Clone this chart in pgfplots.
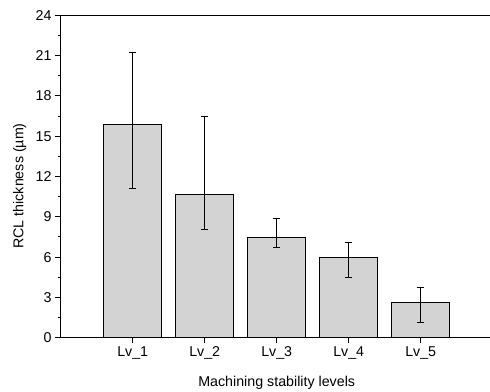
\documentclass[border=0pt]{standalone}
\usepackage{fontspec}
\setmainfont{Liberation Sans}
\usepackage{pgfplots}
\pgfplotsset{compat=1.18}
\definecolor{barfill}{RGB}{211,211,211}
\newcommand{\lab}{\fontsize{14.3}{17}\selectfont}
\begin{document}
\begin{tikzpicture}
% fixed page frame around the axis box
\path[use as bounding box] (-60.7bp,-54.3bp) rectangle (429.3bp,337.7bp);
\begin{axis}[
  at={(0,0)}, anchor=south west,
  scale only axis,
  width=429.3bp, height=322.4bp,
  xmin=0, xmax=5.9625,
  ymin=0, ymax=24,
  axis x line*=box,
  axis y line*=left,
  axis line style={line width=1bp, -},
  every axis plot/.append style={line width=1bp},
  tick align=outside,
  major tick length=5.7bp,
  minor tick length=3bp,
  tick style={line width=1bp, black},
  xtick={1,2,3,4,5},
  xticklabels={Lv\_1,Lv\_2,Lv\_3,Lv\_4,Lv\_5},
  xtick pos=bottom,
  ytick={0,3,...,24},
  minor y tick num=1,
  ytick pos=left,
  /pgf/number format/assume math mode=true,
  tick label style={font=\lab},
  xlabel={Machining stability levels},
  ylabel={RCL thickness (µm)},
  every axis x label/.style={at={(axis cs:3,0)}, anchor=base, yshift=-49bp, font=\lab},
  every axis y label/.style={at={(axis description cs:0,0)}, xshift=-37.4bp, yshift=151.7bp, rotate=90, anchor=base, font=\lab},
  ybar, bar width=0.8, bar shift=0pt,
]
\addplot[
  fill=barfill, draw=black, line width=1bp,
  error bars/.cd,
    y dir=both, y explicit,
    error bar style={line width=1bp, black},
    error mark options={rotate=90, mark size=3.3bp, line width=1bp, black},
] coordinates {
  (1,15.89) += (0,5.33) -= (0,4.77)
  (2,10.63) += (0,5.87) -= (0,2.61)
  (3,7.47)  += (0,1.42) -= (0,0.79)
  (4,5.98)  += (0,1.12) -= (0,1.53)
  (5,2.61)  += (0,1.14) -= (0,1.46)
};
\end{axis}
\end{tikzpicture}
\end{document}
